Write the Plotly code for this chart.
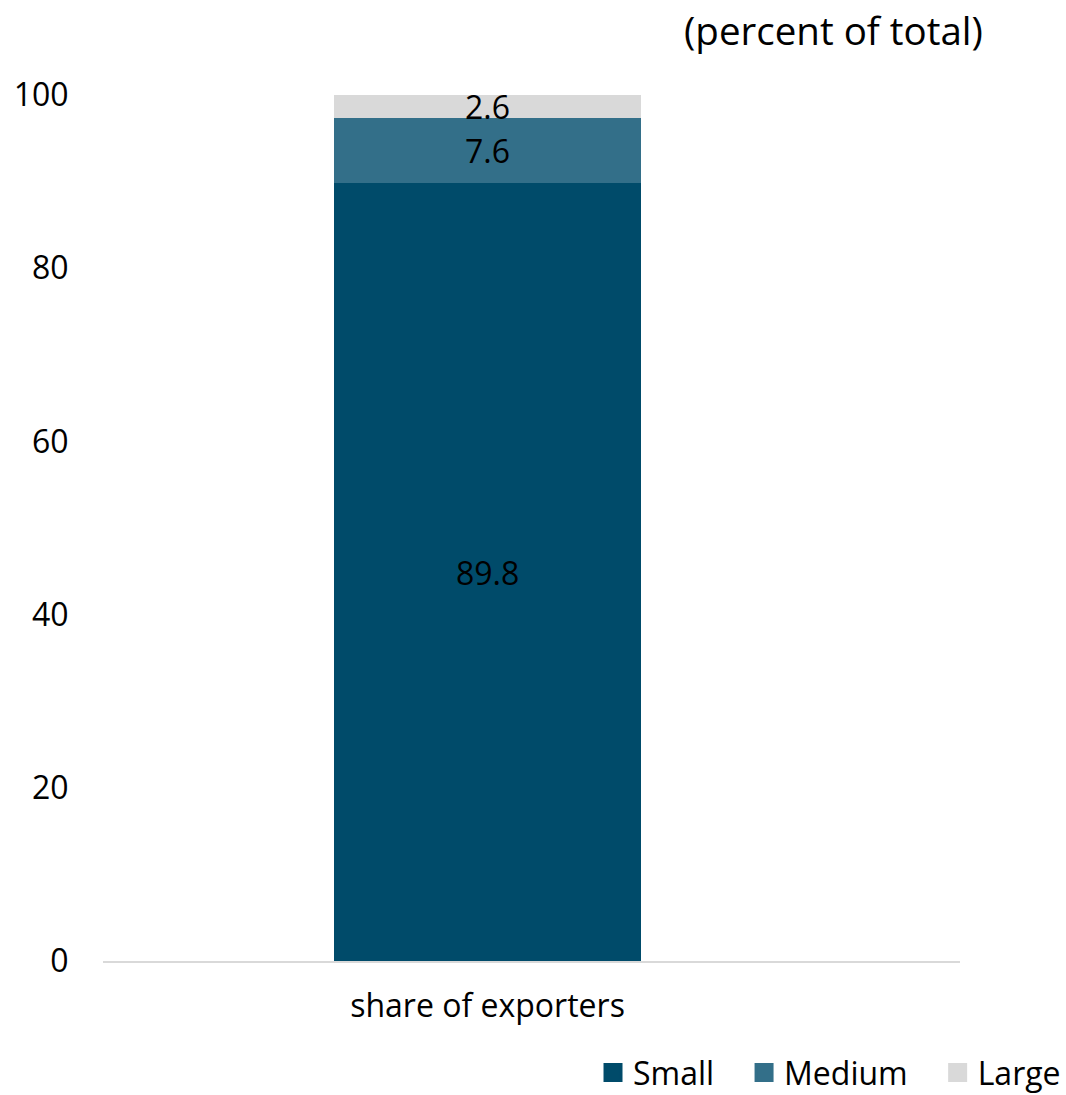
import plotly.graph_objects as go

# Share of exporters by firm size (percent of total)
categories = ["share of exporters"]
series_names = ["Small", "Medium", "Large"]
small = [89.8]
medium = [7.6]
large = [2.6]
y_ticks = [0, 20, 40, 60, 80, 100]

colors = {"Small": "#004B6A", "Medium": "#336F89", "Large": "#D9D9D9"}
FONT = "Open Sans"
FS = 32
PAD = "\u00a0" * 3  # extra room between legend entries

fig = go.Figure()
values = {"Small": small, "Medium": medium, "Large": large}
for name in series_names:
    fig.add_trace(go.Bar(
        x=categories, y=values[name], name=name,
        marker=dict(color=colors[name], line=dict(width=0)),
        width=0.358, showlegend=False,
    ))

# legend entries with larger square swatches
for name in series_names:
    fig.add_trace(go.Scatter(
        x=[None], y=[None], mode="markers",
        name=name if name == series_names[-1] else name + PAD,
        marker=dict(symbol="square", size=16, color=colors[name],
                    line=dict(color=colors[name], width=3)),
    ))

# value labels centred in each stacked segment
base = [0.0] * len(categories)
for name in series_names:
    for i, cat in enumerate(categories):
        v = values[name][i]
        fig.add_annotation(x=cat, y=base[i] + v / 2, text=f"{v:.1f}",
                           showarrow=False, font=dict(family=FONT, size=FS, color="black"),
                           xref="x", yref="y")
        base[i] += v

fig.add_annotation(text="(percent of total)", xref="paper", yref="paper",
                   x=1.0292, y=1.043, xanchor="right", yanchor="bottom",
                   showarrow=False, font=dict(family=FONT, size=38.5, color="black"))

fig.update_layout(
    barmode="stack",
    width=1066, height=1095,
    margin=dict(l=103, r=106, t=95, b=134, autoexpand=False),
    paper_bgcolor="white", plot_bgcolor="white",
    font=dict(family=FONT, size=FS, color="black"),
    showlegend=True,
    legend=dict(orientation="h", xref="paper", yref="paper",
                x=1.1237, xanchor="right", y=-0.129, yanchor="middle",
                font=dict(family=FONT, size=FS), traceorder="normal",
                itemwidth=30, tracegroupgap=0),
    xaxis=dict(range=[-0.4487, 0.5513], showline=True, linecolor="#D9D9D9", linewidth=2,
               showgrid=False, ticks="outside", ticklen=16, tickcolor="rgba(0,0,0,0)",
               tickfont=dict(family=FONT, size=FS)),
    yaxis=dict(range=[0, 100], tickvals=y_ticks, showgrid=False, zeroline=False,
               showline=False, ticks="outside", ticklen=27, tickcolor="rgba(0,0,0,0)",
               tickfont=dict(family=FONT, size=FS)),
)

fig.write_html("out.html")
